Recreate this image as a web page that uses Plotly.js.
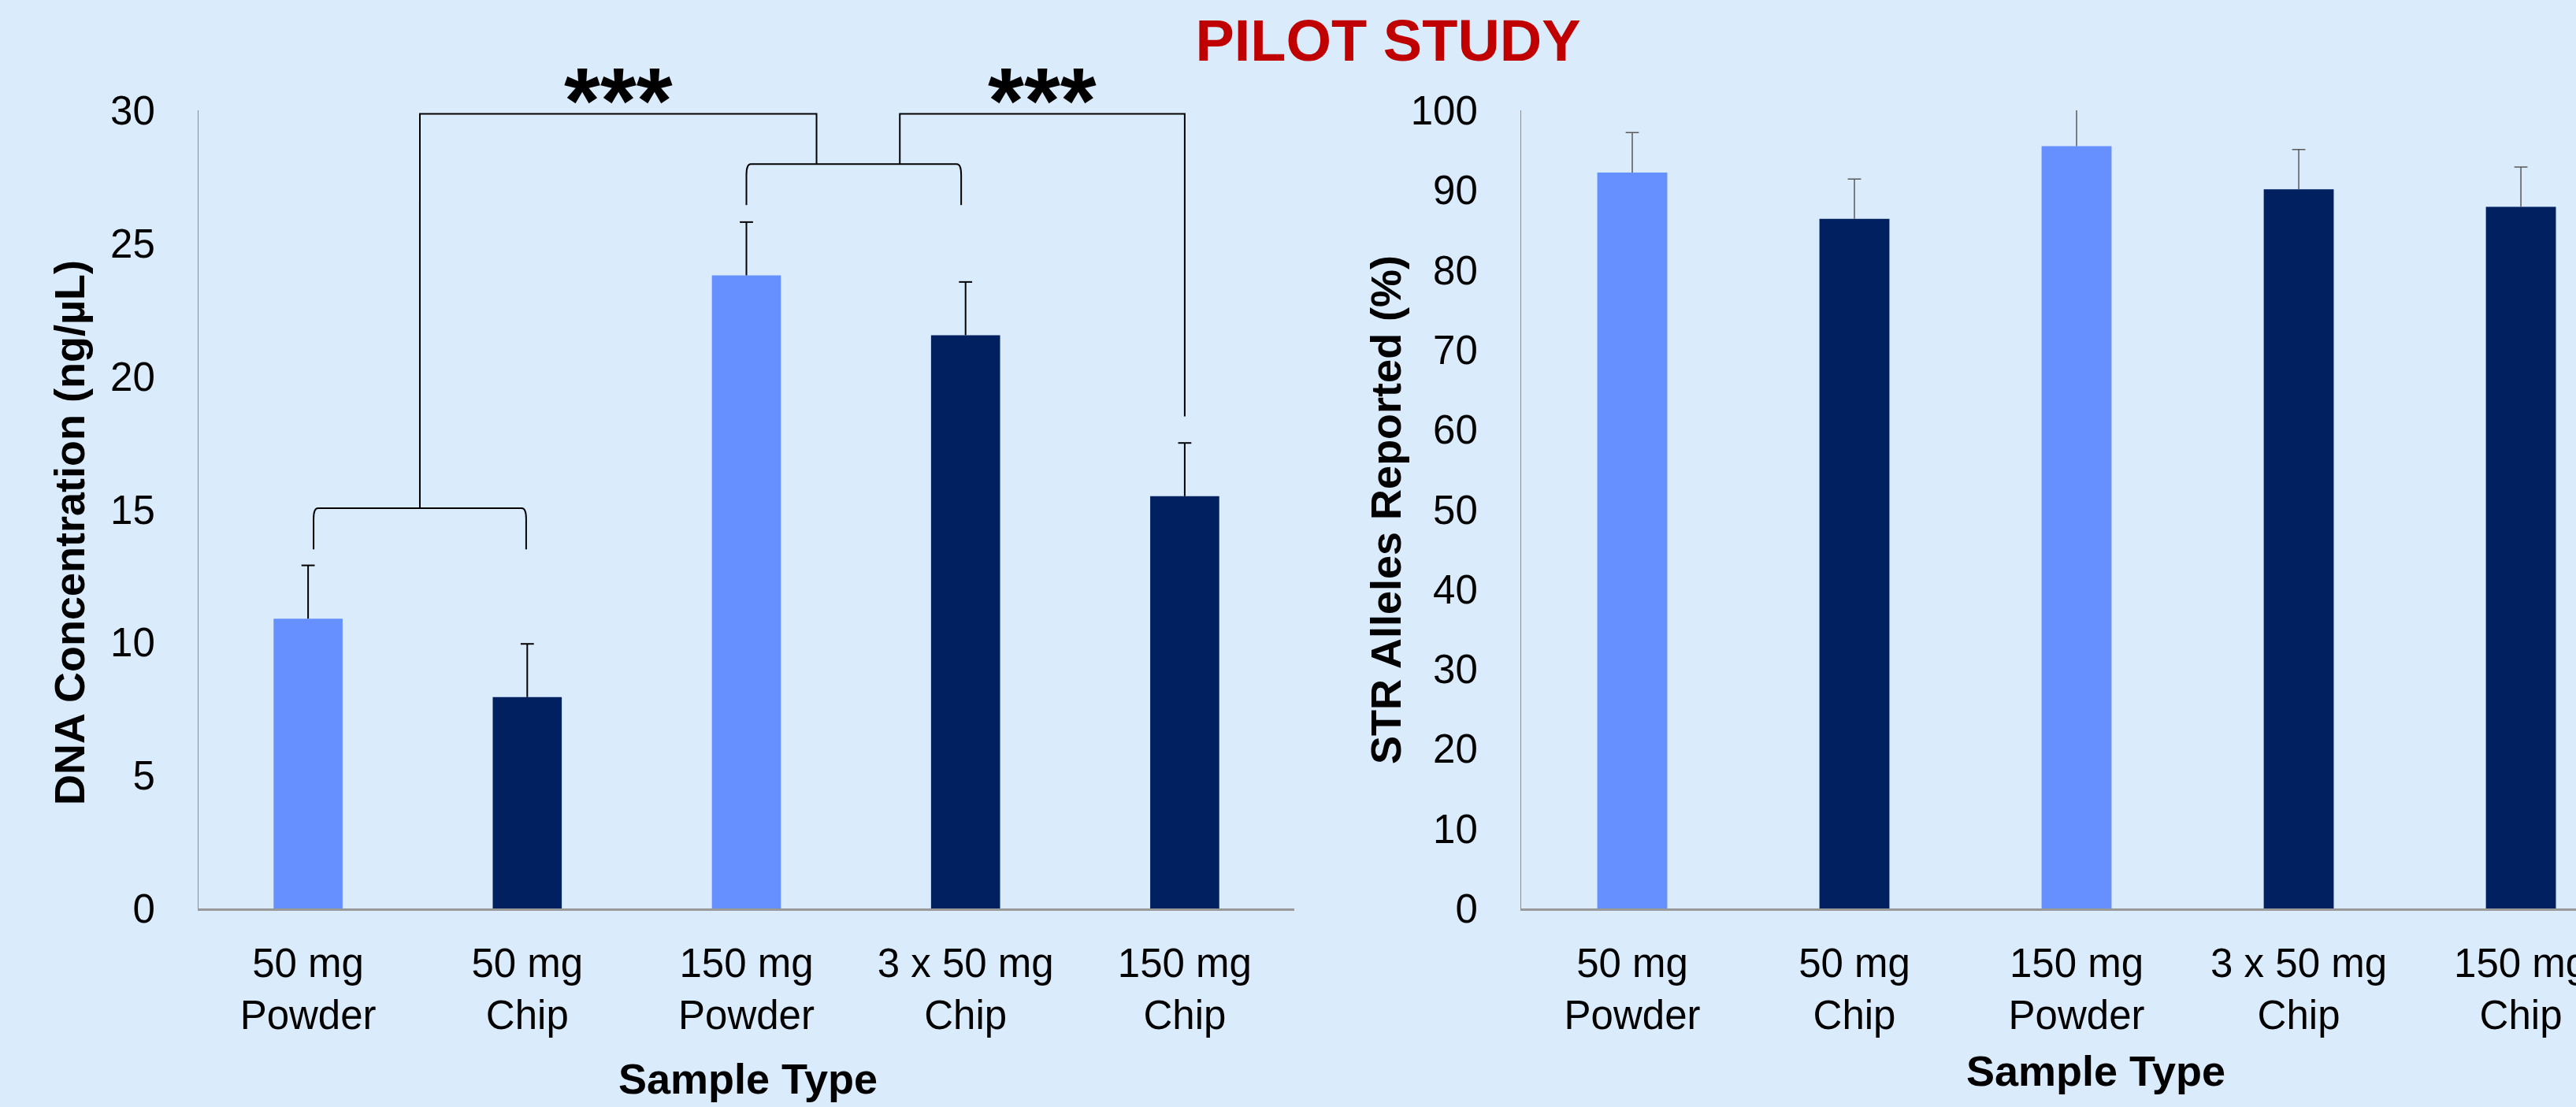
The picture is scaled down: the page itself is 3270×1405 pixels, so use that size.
<!DOCTYPE html>
<html>
<head>
<meta charset="utf-8">
<script src="https://cdn.plot.ly/plotly-3.0.1.min.js"></script>
<style>
  html, body { margin: 0; padding: 0; background: #DAEBFC; overflow: hidden; }
  #chart { width: 3270px; height: 1405px; }
</style>
</head>
<body>
<div id="chart"></div>
<script>
// Sample types (x categories) and their preparation form
const sampleTypes = ['50 mg<br>Powder', '50 mg<br>Chip', '150 mg<br>Powder', '3 x 50 mg<br>Chip', '150 mg<br>Chip'];
const sampleForm = ['Powder', 'Chip', 'Powder', 'Chip', 'Chip'];

// DNA yield (ng/µL) with upper error
const dnaConcentration = [10.9, 7.95, 23.8, 21.55, 15.5];
const dnaError = [2.0, 2.0, 2.0, 2.0, 2.0];

// STR alleles reported (%) with upper error
const strAlleles = [92.2, 86.4, 95.5, 90.1, 87.9];
const strError = [5.0, 5.0, 5.0, 5.0, 5.0];

const yTicksDna = [0, 5, 10, 15, 20, 25, 30];
const yTicksStr = [0, 10, 20, 30, 40, 50, 60, 70, 80, 90, 100];

const FONT = 'Liberation Sans, Arial, sans-serif';
const LIGHT = '#6690FF';
const DARK = '#002060';
const barColors = sampleForm.map(f => f === 'Powder' ? LIGHT : DARK);

const W = 3270, H = 1405;
const px = v => v / W;
const py = v => (H - v) / H;
const yDomain = [py(1153.3), py(140)];

// Upper-only error bars: a stem from the bar top plus a cap marker
function errorTraces(values, errors, xa, ya, color, thickness) {
  const sx = [], sy = [];
  sampleTypes.forEach((c, i) => {
    sx.push(c, c, null);
    sy.push(values[i], values[i] + errors[i], null);
  });
  return [
    { type: 'scatter', mode: 'lines', x: sx, y: sy, xaxis: xa, yaxis: ya,
      line: { color: color, width: thickness }, connectgaps: false, hoverinfo: 'skip' },
    { type: 'scatter', mode: 'markers', x: sampleTypes, y: values.map((v, i) => v + errors[i]),
      xaxis: xa, yaxis: ya, cliponaxis: true, hoverinfo: 'skip',
      marker: { symbol: 'line-ew', size: 12, color: color, line: { color: color, width: thickness } } }
  ];
}

const traces = [
  {
    type: 'bar', x: sampleTypes, y: dnaConcentration, xaxis: 'x', yaxis: 'y',
    width: 0.315, marker: { color: barColors, line: { width: 0 } }
  },
  ...errorTraces(dnaConcentration, dnaError, 'x', 'y', '#000000', 2),
  {
    type: 'bar', x: sampleTypes, y: strAlleles, xaxis: 'x2', yaxis: 'y2',
    width: 0.315, marker: { color: barColors, line: { width: 0 } }
  },
  ...errorTraces(strAlleles, strError, 'x2', 'y2', '#595959', 1.5)
];

const tickFont = { family: FONT, size: 51, color: '#000000' };
const titleFont = { family: FONT, size: 54, color: '#000000', weight: 'bold' };

const xCommon = {
  type: 'category', showline: true, linecolor: '#999999', linewidth: 3,
  ticks: '', showgrid: false, zeroline: false, tickfont: tickFont,
  ticklabelstandoff: 22, automargin: false, fixedrange: true
};
const yCommon = {
  showline: true, linecolor: '#8C8C8C', linewidth: 1, ticks: '',
  showgrid: false, zeroline: false, tickfont: tickFont,
  ticklabelstandoff: 44, automargin: false, fixedrange: true, domain: yDomain
};

// Significance brackets on the DNA panel (data coordinates)
function leg(xBottom, yBottom, yTop, dir) {
  // vertical leg bending into the horizontal bar
  return `M${xBottom},${yBottom} L${xBottom},${yTop - 0.4} Q${xBottom},${yTop} ${xBottom + dir * 0.02},${yTop}`;
}
const line = { color: '#000000', width: 2 };
const shapes = [
  // 50 mg powder vs 50 mg chip group
  { type: 'path', xref: 'x', yref: 'y', line,
    path: leg(0.025, 13.5, 15.05, 1) + ' L0.975,15.05 Q0.995,15.05 0.995,14.65 L0.995,13.5' },
  { type: 'path', xref: 'x', yref: 'y', line,
    path: 'M0.51,15.05 L0.51,29.87 L2.32,29.87 L2.32,27.98' },
  // 150 mg powder vs 3 x 50 mg chip group
  { type: 'path', xref: 'x', yref: 'y', line,
    path: leg(2.0, 26.44, 27.98, 1) + ' L2.96,27.98 Q2.98,27.98 2.98,27.58 L2.98,26.44' },
  { type: 'path', xref: 'x', yref: 'y', line,
    path: 'M2.70,27.98 L2.70,29.87 L4.0,29.87 L4.0,18.5' }
];

const starFont = { family: FONT, size: 118, color: '#000000', weight: 'bold' };
const annotations = [
  { text: '***', xref: 'x', yref: 'paper', x: 1.415, y: py(128), xanchor: 'center', yanchor: 'middle',
    showarrow: false, font: starFont },
  { text: '***', xref: 'x', yref: 'paper', x: 3.35, y: py(128), xanchor: 'center', yanchor: 'middle',
    showarrow: false, font: starFont },
  { text: 'DNA Concentration (ng/µL)', xref: 'paper', yref: 'paper', x: px(88), y: py(676),
    xanchor: 'center', yanchor: 'middle', textangle: -90, showarrow: false, font: titleFont },
  { text: 'STR Alleles Reported (%)', xref: 'paper', yref: 'paper', x: px(1759), y: py(647),
    xanchor: 'center', yanchor: 'middle', textangle: -90, showarrow: false, font: titleFont },
  { text: 'Sample Type', xref: 'paper', yref: 'paper', x: px(949), y: py(1369),
    xanchor: 'center', yanchor: 'middle', showarrow: false, font: titleFont },
  { text: 'Sample Type', xref: 'paper', yref: 'paper', x: px(2660), y: py(1359),
    xanchor: 'center', yanchor: 'middle', showarrow: false, font: titleFont }
];

const layout = {
  width: W, height: H,
  paper_bgcolor: '#DAEBFC', plot_bgcolor: '#DAEBFC',
  margin: { l: 0, r: 0, t: 0, b: 0, pad: 0 },
  showlegend: false,
  title: {
    text: 'PILOT STUDY', x: px(1762), xanchor: 'center', xref: 'paper',
    yref: 'container', y: py(51), yanchor: 'middle',
    font: { family: FONT, size: 74, color: '#C00000', weight: 'bold' }
  },
  xaxis: Object.assign({}, xCommon, { domain: [px(252), px(1643)], anchor: 'y', range: [-0.5, 4.5] }),
  yaxis: Object.assign({}, yCommon, { anchor: 'x', range: [0, 30], tickvals: yTicksDna }),
  xaxis2: Object.assign({}, xCommon, { domain: [px(1931), 1], anchor: 'y2', range: [-0.5, 4.248] }),
  yaxis2: Object.assign({}, yCommon, { anchor: 'x2', range: [0, 100], tickvals: yTicksStr }),
  shapes: shapes,
  annotations: annotations
};

Plotly.newPlot('chart', traces, layout, { displayModeBar: false, staticPlot: true });
</script>
</body>
</html>
